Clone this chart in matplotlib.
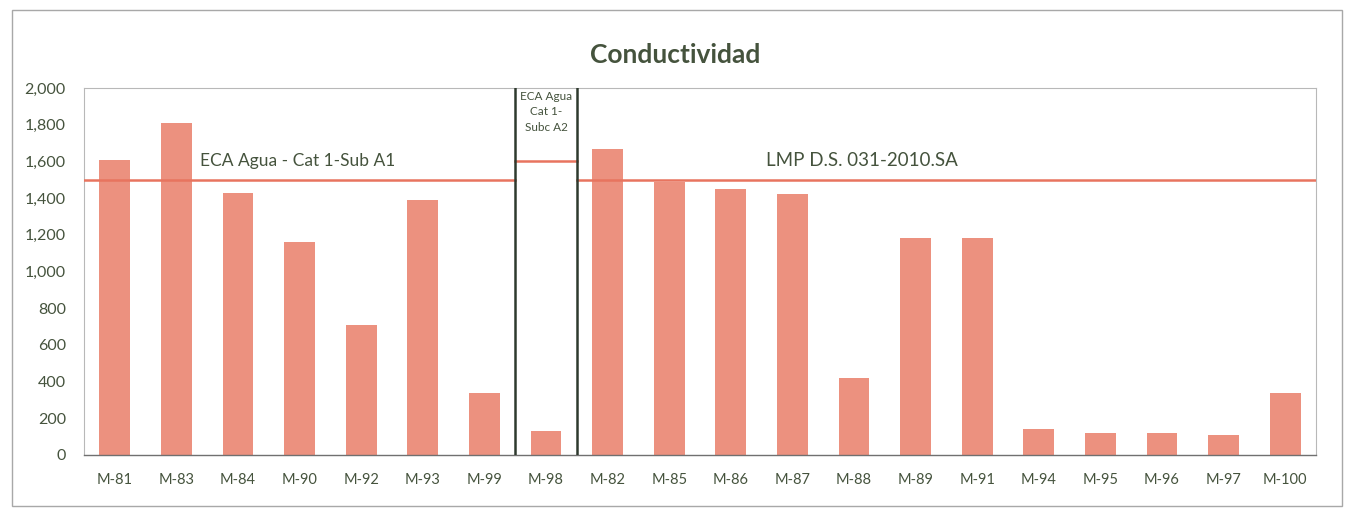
import matplotlib
matplotlib.use("Agg")
import matplotlib.pyplot as plt
from matplotlib.patches import Rectangle
from matplotlib.ticker import FuncFormatter

# Conductivity per monitoring point (uS/cm)
estaciones = ["M-81", "M-83", "M-84", "M-90", "M-92", "M-93", "M-99", "M-98",
              "M-82", "M-85", "M-86", "M-87", "M-88", "M-89", "M-91", "M-94",
              "M-95", "M-96", "M-97", "M-100"]
conductividad = [1610, 1810, 1430, 1160, 710, 1390, 340, 130,
                 1670, 1490, 1450, 1420, 420, 1180, 1180, 140,
                 120, 120, 110, 340]

# Reference limits
eca_a1 = 1500
eca_a2 = 1600
lmp = 1500
yticks = [0, 200, 400, 600, 800, 1000, 1200, 1400, 1600, 1800, 2000]

bar_color = "#EC917F"
line_color = "#E8745F"
text_color = "#45533D"

plt.rcParams["font.family"] = ["Lato", "DejaVu Sans"]

fig = plt.figure(figsize=(13.51, 5.21), dpi=100)
ax = fig.add_axes([84 / 1351, 1 - 455 / 521, (1316 - 84) / 1351, (455 - 88) / 521])

x = list(range(len(estaciones)))
ax.bar(x, conductividad, width=0.5, color=bar_color, zorder=2)

# Limit lines for each group of stations
ax.plot([-0.5, 6.5], [eca_a1, eca_a1], color=line_color, lw=1.8, zorder=3)
ax.plot([6.5, 7.5], [eca_a2, eca_a2], color=line_color, lw=1.8, zorder=3)
ax.plot([7.5, 19.5], [lmp, lmp], color=line_color, lw=1.8, zorder=3)

# Group separators
for xs in (6.5, 7.5):
    ax.axvline(xs, color="#2E3A2E", lw=1.8, zorder=4)

ax.text(1.38, eca_a1 + 60, "ECA Agua - Cat 1-Sub A1", color=text_color,
        fontsize=12.5, ha="left", va="bottom")
ax.text(7.0, 1985, "ECA Agua\nCat 1-\nSubc A2", color=text_color,
        fontsize=8.5, ha="center", va="top", linespacing=1.5)
ax.text(10.57, lmp + 60, "LMP D.S. 031-2010.SA", color=text_color,
        fontsize=13.5, ha="left", va="bottom")

ax.set_xlim(-0.5, 19.5)
ax.set_ylim(0, 2000)
ax.set_yticks(yticks)
ax.yaxis.set_major_formatter(FuncFormatter(lambda v, p: f"{int(v):,}"))
ax.set_xticks(x)
ax.set_xticklabels(estaciones)
ax.tick_params(axis="x", length=0, labelsize=10.5, labelcolor=text_color, pad=13)
ax.tick_params(axis="y", length=0, labelsize=11.5, labelcolor=text_color, pad=13)

for side in ("top", "right", "left"):
    ax.spines[side].set_color("#B8B8B8")
    ax.spines[side].set_linewidth(0.8)
ax.spines["bottom"].set_color("#707070")
ax.spines["bottom"].set_linewidth(1.0)

fig.text(0.5, 1 - 55 / 521, "Conductividad", ha="center", va="center",
         fontsize=19, fontweight="bold", color=text_color)

# Outer chart frame
fig.patches.append(Rectangle((12 / 1351, 1 - 506 / 521), (1342 - 12) / 1351,
                             (506 - 10) / 521, transform=fig.transFigure,
                             fill=False, edgecolor="#A8A8A8", lw=1.0))

fig.savefig("out.png", dpi=100)
